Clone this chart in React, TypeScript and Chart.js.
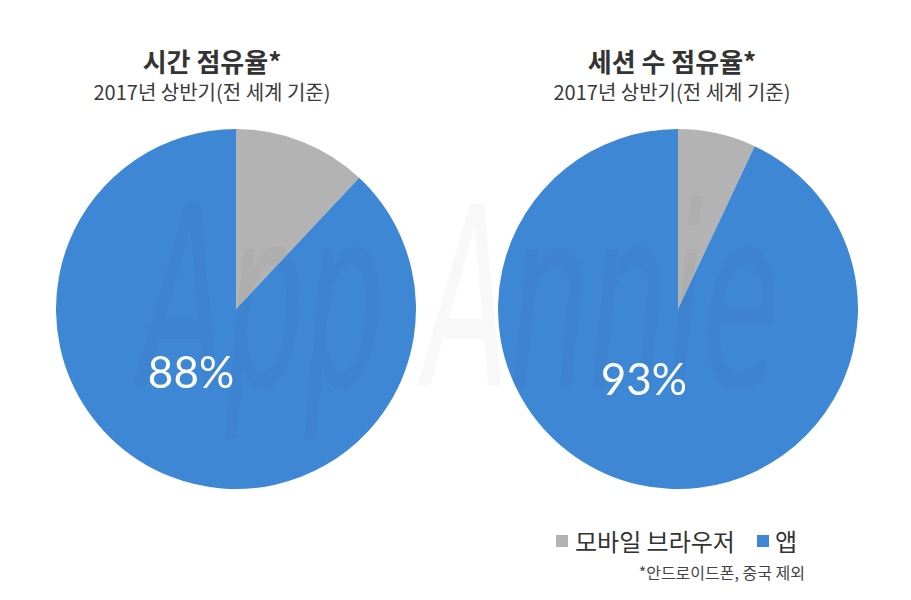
import React, { useEffect, useRef } from "react";
import { Chart, registerables } from "chart.js";

Chart.register(...registerables);

const categories = ["모바일 브라우저", "앱"];
const timeShare = [12, 88];
const sessionShare = [7, 93];
const sliceColors = ["#b3b3b3", "#3e87d4"];
const titles = ["시간 점유율*", "세션 수 점유율*"];
const subtitle = "2017년 상반기(전 세계 기준)";
const footnote = "*안드로이드폰, 중국 제외";

const KR = '"Noto Sans CJK KR", "Noto Sans", sans-serif';

const percentLabel = {
  id: "percentLabel",
  afterDatasetsDraw(chart: any) {
    const meta = chart.getDatasetMeta(0);
    const arc = meta.data[1];
    if (!arc) return;
    const p = arc.getProps(["x", "y", "startAngle", "endAngle", "outerRadius"], true);
    const mid = (p.startAngle + p.endAngle) / 2 + (13 * Math.PI) / 180;
    const r = p.outerRadius * 0.44;
    const ctx = chart.ctx;
    ctx.save();
    ctx.fillStyle = "#ffffff";
    ctx.font = '400 44px Lato, "Open Sans", sans-serif';
    ctx.textAlign = "center";
    ctx.textBaseline = "middle";
    ctx.fillText(chart.data.datasets[0].data[1] + "%", p.x + Math.cos(mid) * r, p.y + Math.sin(mid) * r);
    ctx.restore();
  },
};

function Pie({ values, left, top }: { values: number[]; left: number; top: number }) {
  const ref = useRef<HTMLCanvasElement | null>(null);
  useEffect(() => {
    if (!ref.current) return;
    const chart = new Chart(ref.current, {
      type: "pie",
      data: {
        labels: categories,
        datasets: [{ data: values, backgroundColor: sliceColors, borderWidth: 0 }],
      },
      options: {
        animation: false,
        responsive: false,
        layout: { padding: 10 },
        plugins: { legend: { display: false }, tooltip: { enabled: false } },
      },
      plugins: [percentLabel],
    });
    return () => chart.destroy();
  }, [values]);
  return (
    <canvas
      ref={ref}
      width={380}
      height={380}
      style={{ position: "absolute", left, top, width: 380, height: 380 }}
    />
  );
}

function Title({ cx, text }: { cx: number; text: string }) {
  return (
    <>
      <div
        style={{
          position: "absolute",
          left: cx - 200,
          top: 45,
          width: 400,
          textAlign: "center",
          font: `bold 26px/32px ${KR}`,
          color: "#333333",
          whiteSpace: "nowrap",
        }}
      >
        {text}
      </div>
      <div
        style={{
          position: "absolute",
          left: cx - 200,
          top: 79,
          width: 400,
          textAlign: "center",
          font: `20px/26px ${KR}`,
          color: "#3a3a3a",
          whiteSpace: "nowrap",
        }}
      >
        {subtitle}
      </div>
    </>
  );
}

export default function App() {
  return (
    <div
      style={{
        position: "absolute",
        left: 0,
        top: 0,
        width: 911,
        height: 600,
        background: "#ffffff",
        overflow: "hidden",
      }}
    >
      <Title cx={212} text={titles[0]} />
      <Title cx={672} text={titles[1]} />
      <Pie values={timeShare} left={46} top={119} />
      <Pie values={sessionShare} left={488} top={119} />
      <div
        style={{
          position: "absolute",
          left: 140,
          top: 170,
          width: 640,
          height: 260,
          pointerEvents: "none",
          font: `italic 250px/260px "DejaVu Sans", sans-serif`,
          color: "rgba(20,30,70,0.03)",
          whiteSpace: "nowrap",
          transformOrigin: "0 0",
          transform: "scaleX(0.5)",
        }}
      >
        App Annie
      </div>
      <div
        style={{
          position: "absolute",
          left: 556,
          top: 527,
          height: 28,
          display: "flex",
          alignItems: "center",
          font: `24px/28px ${KR}`,
          color: "#333333",
          whiteSpace: "nowrap",
        }}
      >
        <span style={{ width: 12, height: 12, background: sliceColors[0], marginRight: 7 }} />
        <span>{categories[0]}</span>
        <span style={{ width: 12, height: 12, background: sliceColors[1], marginLeft: 22, marginRight: 6 }} />
        <span>{categories[1]}</span>
      </div>
      <div
        style={{
          position: "absolute",
          right: 911 - 805,
          top: 562,
          font: `16px/20px ${KR}`,
          color: "#444444",
          whiteSpace: "nowrap",
        }}
      >
        {footnote}
      </div>
    </div>
  );
}
